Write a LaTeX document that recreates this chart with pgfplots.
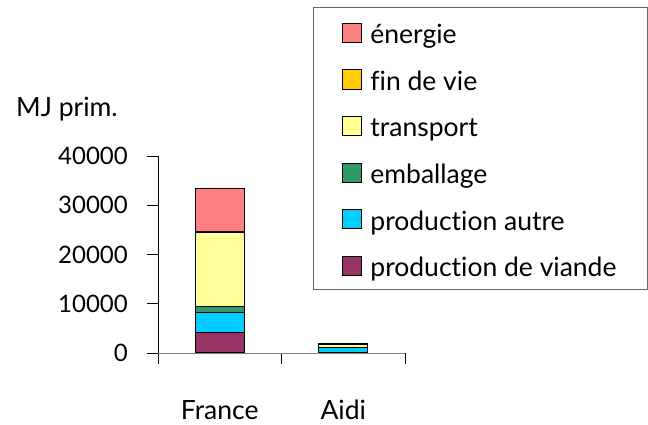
\documentclass[border=0pt]{standalone}
\usepackage{fontspec}
\setmainfont[Ligatures={NoCommon}]{Lato}
\usepackage{pgfplots}
\pgfplotsset{compat=1.18}
\definecolor{cviande}{HTML}{993366}
\definecolor{cautre}{HTML}{00CCFF}
\definecolor{cemb}{HTML}{339966}
\definecolor{ctrans}{HTML}{FFFF99}
\definecolor{cfin}{HTML}{FFCC00}
\definecolor{cener}{HTML}{FF8080}
\newcommand{\bigtext}{\fontsize{26.5}{30}\selectfont}
\pgfplotsset{
  lsq/.style={legend image code/.code={\draw[##1,line width=1pt] (0pt,-10.75pt) rectangle (19pt,8.55pt);}},
}
\begin{document}
\begin{tikzpicture}[font=\fontsize{24}{28}\selectfont]
\path[use as bounding box] (0,0) rectangle (648pt,425pt);
\node[anchor=base west, inner sep=0pt, font=\bigtext] at (16pt,308pt) {MJ prim.};
\begin{axis}[
  at={(158pt,72pt)}, anchor=south west,
  scale only axis, width=247pt, height=197pt,
  ymin=0, ymax=40000, ytick={0,10000,20000,30000,40000},
  scaled y ticks=false,
  /pgf/number format/.cd, 1000 sep={}, assume math mode=true, /pgfplots/.cd,
  xmin=-0.5, xmax=1.5,
  xtick={-0.5,0.5,1.5}, xticklabels={},
  extra x ticks={0,1}, extra x tick labels={France,Aidi},
  extra x tick style={major tick length=0pt, xticklabel style={anchor=base, yshift=-67pt, font=\bigtext}},
  axis x line*=bottom, axis y line*=left,
  x axis line style={draw=gray, -},
  y axis line style={draw=black, -},
  tick align=outside, major tick length=11pt,
  tick style={black, line width=0.8pt},
  yticklabel style={anchor=east, inner sep=0pt, xshift=-19pt},
  ybar stacked, bar width=49pt,
  legend style={at={(0.6275,1.7563)}, anchor=north west, draw=black!60, line width=0.8pt,
    inner xsep=29pt, inner ysep=2pt, row sep=2.14pt, column sep=6pt, font=\bigtext,
    nodes={text height=32.3pt, text depth=8.2pt, inner sep=2pt}},
  legend cell align=left, reverse legend,
]
\addplot[fill=cviande, draw=black, line width=1pt, lsq] coordinates {(0,4200) (1,0)};
\addplot[fill=cautre, draw=black, line width=1pt, lsq] coordinates {(0,4100) (1,1050)};
\addplot[fill=cemb, draw=black, line width=1pt, lsq] coordinates {(0,1150) (1,100)};
\addplot[fill=ctrans, draw=black, line width=1pt, lsq] coordinates {(0,15100) (1,650)};
\addplot[fill=cfin, draw=black, line width=1pt, lsq] coordinates {(0,120) (1,50)};
\addplot[fill=cener, draw=black, line width=1pt, lsq] coordinates {(0,8800) (1,50)};
\legend{production de viande, production autre, emballage, transport, fin de vie, énergie}
\end{axis}
\end{tikzpicture}
\end{document}
